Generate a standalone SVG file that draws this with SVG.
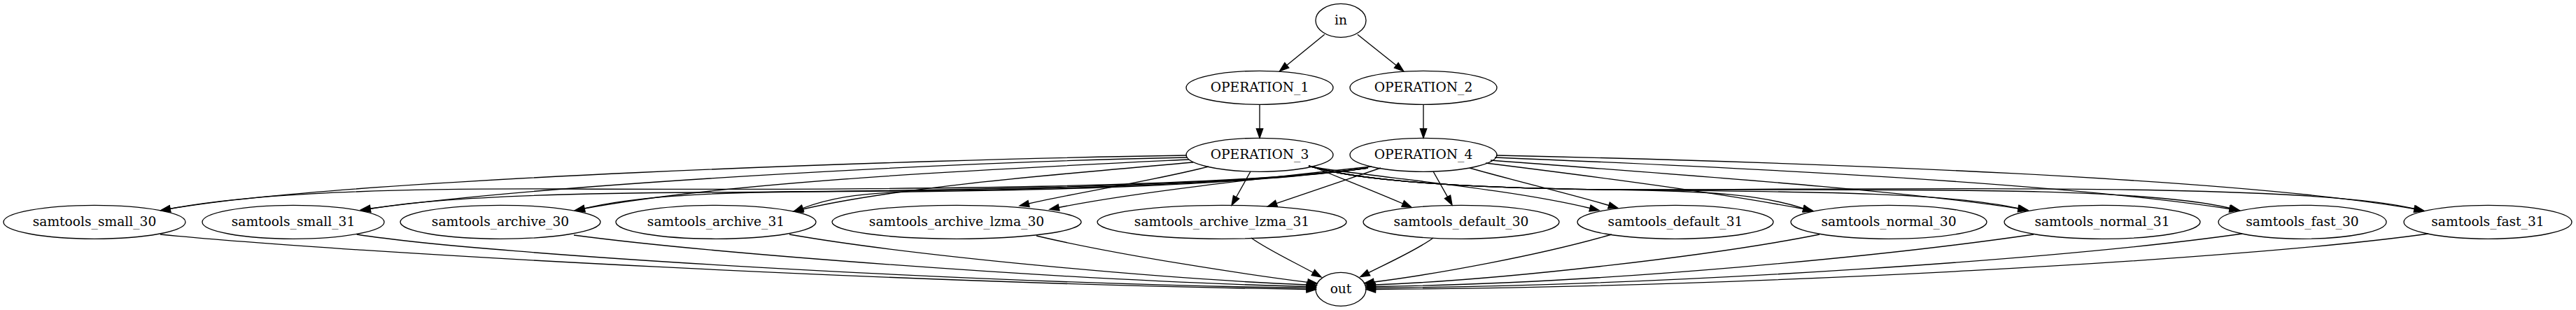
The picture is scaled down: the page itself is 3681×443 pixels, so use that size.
<svg xmlns="http://www.w3.org/2000/svg" width="3681" height="443" viewBox="0 0 3681 443">
<style>
.n ellipse{fill:none;stroke:#000;stroke-width:1.33}
.n text{font-family:"DejaVu Serif",serif;font-size:18.67px;fill:#000;text-anchor:middle}
#edges path{fill:none;stroke:#000;stroke-width:1.33;marker-end:url(#ah)}
</style>
<defs>
<marker id="ah" markerUnits="userSpaceOnUse" markerWidth="20" markerHeight="14" refX="0" refY="4.67" orient="auto" overflow="visible">
<path d="M0,0 L13.33,4.67 L0,9.33 z" fill="#000" stroke="#000" stroke-width="1.33"/>
</marker>
</defs>
<rect width="3681" height="443" fill="#fff"/>
<g id="edges">
<path d="M1892.7,49.3 L1838.8,93.3"/>
<path d="M1939.8,49.3 L1995.3,93.4"/>
<path d="M1800,149.3 L1800,184"/>
<path d="M2034,149.3 L2034,184"/>
<!-- OP3 edges -->
<path d="M1696,222 C1300,228 489,256 243,298.3"/>
<path d="M1697,225 C1350,232 800,262 529,298"/>
<path d="M1699,228 C1450,240 1050,258 835,298"/>
<path d="M1705,232 C1500,250 1280,268 1147,299"/>
<path d="M1727,238 C1650,258 1540,275 1470,291"/>
<path d="M1787,245 L1766.5,281.7"/>
<path d="M1880,240 C1920,256 1960,272 2004.7,291"/>
<path d="M1872,238 C1950,252 2150,268 2272,297.5"/>
<path d="M1870,237 C1930,255 2050,268 2300,271 C2450,272.8 2520,279.3 2577.3,297.9"/>
<path d="M1870,237 C1930,255 2050,268 2300,271 C2600,274 2780,275 2885,298"/>
<path d="M1870,237 C1930,255 2050,268 2300,271 C2700,272 3050,265 3187,297.5"/>
<path d="M1870,237 C1930,255 2050,268 2300,271 C2800,270 3300,262 3451,298.5"/>
<!-- OP4 edges -->
<path d="M1955,240 C1750,268 1300,272 800,270 C500,268.8 341,280 243,298.3"/>
<path d="M1955,240 C1750,268 1300,273 1000,275 C800,276 620,282 529,298.5"/>
<path d="M1955,240 C1750,268 1400,273 1150,274 C1000,275 900,282 835,298"/>
<path d="M1955,240 C1750,268 1450,272 1300,274 C1220,276 1180,285 1147,297.5"/>
<path d="M1960,238 C1800,255 1620,275 1513,296.5"/>
<path d="M1973,240 C1920,258 1870,275 1824,290.7"/>
<path d="M2048,245 L2068.5,281.4"/>
<path d="M2100,240 C2170,260 2240,276 2299,293.5"/>
<path d="M2123,233 C2300,255 2450,275 2577,298.5"/>
<path d="M2130,229 C2400,250 2700,270 2884,298"/>
<path d="M2136,225 C2500,240 2950,262 3186,298.5"/>
<path d="M2138,222 C2600,232 3200,255 3450,298.5"/>
<!-- to out -->
<path d="M229,335 C500,362 1300,405 1867,413.5"/>
<path d="M510,335 C700,365 1400,405 1867,411.5"/>
<path d="M820,336 C1000,360 1500,400 1867,409.5"/>
<path d="M1128,335 C1300,365 1650,398 1868,407"/>
<path d="M1481,337 C1600,365 1780,392 1868.8,403.4"/>
<path d="M1788,340 C1810,356 1850,375 1876.4,389.5"/>
<path d="M2048,340 C2025,357 1985,375 1955.7,389.7"/>
<path d="M2303,335 C2200,365 2050,392 1963,403"/>
<path d="M2600,335 C2450,365 2150,400 1964.5,407"/>
<path d="M2906,335 C2700,365 2300,405 1965.5,409.5"/>
<path d="M3204,334 C2950,370 2400,408 1965.5,411.5"/>
<path d="M3470,334 C3200,372 2500,410 1965.5,413.5"/>
</g>
<g id="in" class="n"><ellipse cx="1916" cy="29.3" rx="36" ry="24"/><text x="1916" y="34.9">in</text></g>
<g id="OPERATION_1" class="n"><ellipse cx="1800" cy="125.3" rx="105" ry="24"/><text x="1800" y="130.9">OPERATION_1</text></g>
<g id="OPERATION_2" class="n"><ellipse cx="2034" cy="125.3" rx="105" ry="24"/><text x="2034" y="130.9">OPERATION_2</text></g>
<g id="OPERATION_3" class="n"><ellipse cx="1800" cy="221.3" rx="105" ry="24"/><text x="1800" y="226.9">OPERATION_3</text></g>
<g id="OPERATION_4" class="n"><ellipse cx="2034" cy="221.3" rx="105" ry="24"/><text x="2034" y="226.9">OPERATION_4</text></g>
<g id="samtools_small_30" class="n"><ellipse cx="135" cy="317.3" rx="130" ry="24"/><text x="135" y="322.9">samtools_small_30</text></g>
<g id="samtools_small_31" class="n"><ellipse cx="419" cy="317.3" rx="130" ry="24"/><text x="419" y="322.9">samtools_small_31</text></g>
<g id="samtools_archive_30" class="n"><ellipse cx="715" cy="317.3" rx="143" ry="24"/><text x="715" y="322.9">samtools_archive_30</text></g>
<g id="samtools_archive_31" class="n"><ellipse cx="1023" cy="317.3" rx="143" ry="24"/><text x="1023" y="322.9">samtools_archive_31</text></g>
<g id="samtools_archive_lzma_30" class="n"><ellipse cx="1367" cy="317.3" rx="178" ry="24"/><text x="1367" y="322.9">samtools_archive_lzma_30</text></g>
<g id="samtools_archive_lzma_31" class="n"><ellipse cx="1746" cy="317.3" rx="178" ry="24"/><text x="1746" y="322.9">samtools_archive_lzma_31</text></g>
<g id="samtools_default_30" class="n"><ellipse cx="2088" cy="317.3" rx="140" ry="24"/><text x="2088" y="322.9">samtools_default_30</text></g>
<g id="samtools_default_31" class="n"><ellipse cx="2394" cy="317.3" rx="140" ry="24"/><text x="2394" y="322.9">samtools_default_31</text></g>
<g id="samtools_normal_30" class="n"><ellipse cx="2699" cy="317.3" rx="140" ry="24"/><text x="2699" y="322.9">samtools_normal_30</text></g>
<g id="samtools_normal_31" class="n"><ellipse cx="3004" cy="317.3" rx="140" ry="24"/><text x="3004" y="322.9">samtools_normal_31</text></g>
<g id="samtools_fast_30" class="n"><ellipse cx="3290" cy="317.3" rx="120" ry="24"/><text x="3290" y="322.9">samtools_fast_30</text></g>
<g id="samtools_fast_31" class="n"><ellipse cx="3555" cy="317.3" rx="120" ry="24"/><text x="3555" y="322.9">samtools_fast_31</text></g>
<g id="out" class="n"><ellipse cx="1916" cy="413.3" rx="36" ry="24"/><text x="1916" y="418.9">out</text></g>
</svg>
